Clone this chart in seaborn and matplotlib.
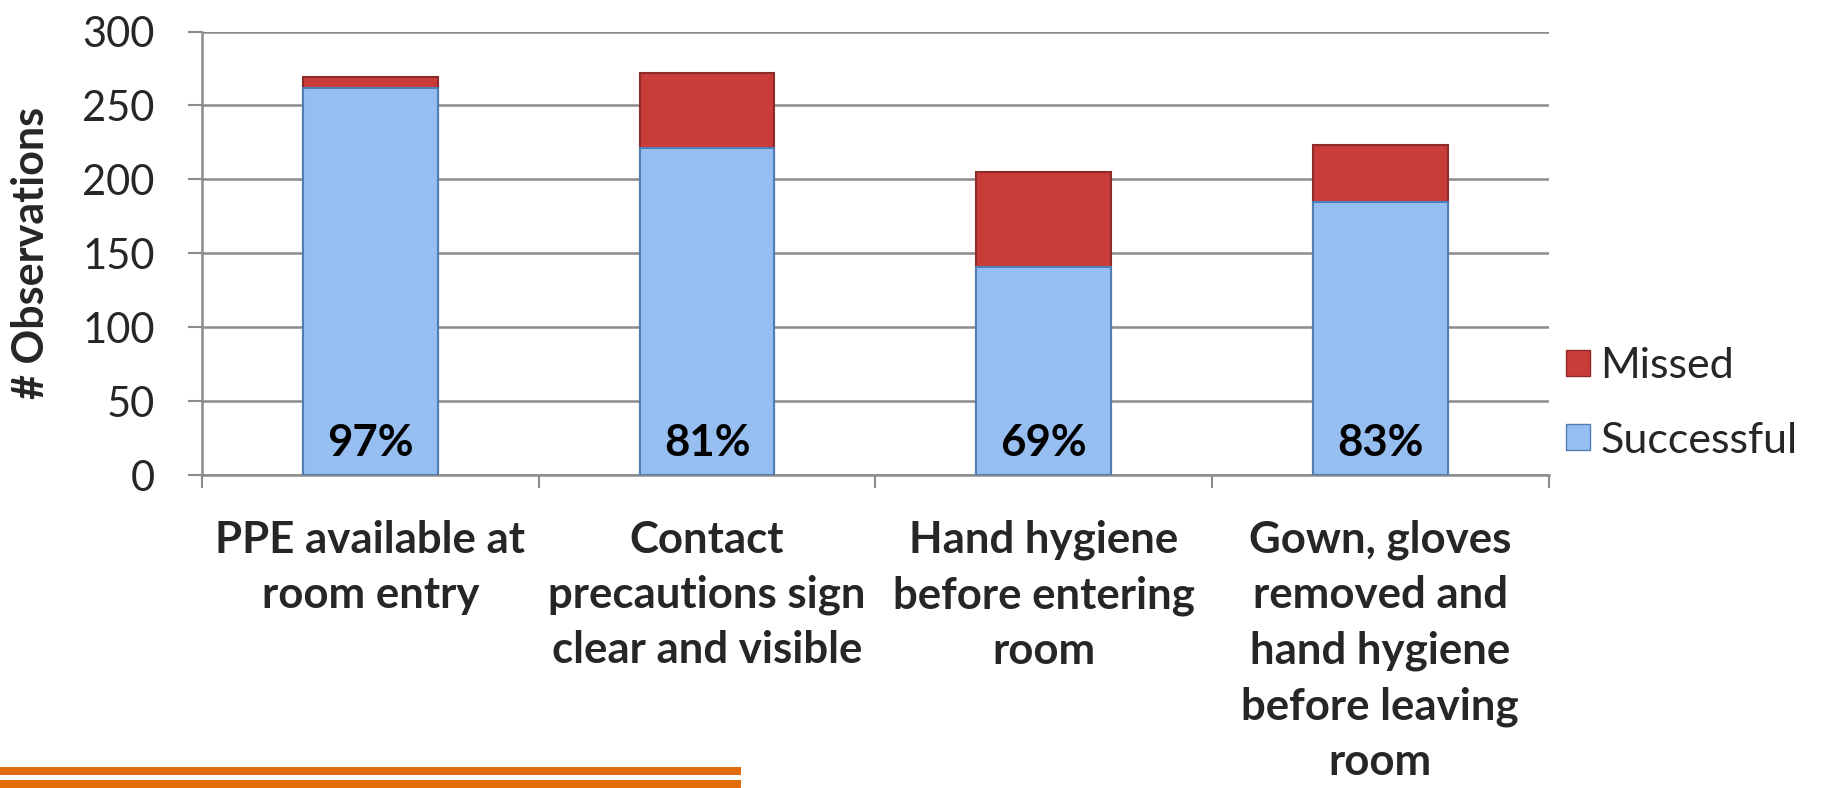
import matplotlib
matplotlib.use("Agg")
import matplotlib.pyplot as plt
import seaborn as sns
import pandas as pd
import numpy as np
from matplotlib.patches import Patch, Rectangle

categories = [
    "PPE available at\nroom entry",
    "Contact\nprecautions sign\nclear and visible",
    "Hand hygiene\nbefore entering\nroom",
    "Gown, gloves\nremoved and\nhand hygiene\nbefore leaving\nroom",
]
successful = [262, 221, 141, 185]
missed = [7, 51, 64, 38]
pct_labels = ["97%", "81%", "69%", "83%"]
yticks = [0, 50, 100, 150, 200, 250, 300]

sns.set_theme(style="white")
plt.rcParams["font.family"] = ["Lato", "DejaVu Sans"]

df = pd.DataFrame({
    "cat": categories,
    "Successful": successful,
    "Missed": missed,
})
df["Total"] = df["Successful"] + df["Missed"]

blue = "#97BEF0"
blue_edge = "#4F7DB5"
red = "#C93C3A"
red_edge = "#8E2A28"
grid_c = "#8C8C8C"

fig = plt.figure(figsize=(18.37, 7.88), dpi=100)
ax = fig.add_axes([0.110, 0.397, 0.733, 0.563])

sns.barplot(data=df, x="cat", y="Total", color=red, width=0.4,
            edgecolor=red_edge, linewidth=1.5, saturation=1, ax=ax, zorder=3)
sns.barplot(data=df, x="cat", y="Successful", color=blue, width=0.4,
            edgecolor=blue_edge, linewidth=1.5, saturation=1, ax=ax, zorder=4)

for i, lab in enumerate(pct_labels):
    ax.text(i, 22, lab, ha="center", va="center", fontsize=31.5,
            fontweight="bold", color="black", zorder=5)

ax.set_ylim(0, 300)
ax.set_xlim(-0.5, 3.5)
ax.set_yticks(yticks)
ax.set_yticklabels([str(v) for v in yticks])
ax.yaxis.grid(True, color=grid_c, linewidth=1.8, zorder=0)
ax.set_axisbelow(True)

for s in ["top", "right"]:
    ax.spines[s].set_visible(False)
for s in ["left", "bottom"]:
    ax.spines[s].set_color(grid_c)
    ax.spines[s].set_linewidth(1.8)

ax.tick_params(axis="y", direction="out", length=10, width=1.5, color=grid_c,
               labelsize=30, pad=24, left=True)
ax.set_xticks(range(4))
ax.set_xticklabels(categories, fontsize=31.5, fontweight="bold",
                   linespacing=1.46, va="top")
ax.tick_params(axis="x", length=0, pad=32)
ax.set_xticks([-0.5, 0.5, 1.5, 2.5, 3.5], minor=True)
ax.tick_params(axis="x", which="minor", direction="out", length=9,
               width=1.5, color=grid_c, bottom=True)

ax.set_xlabel("")
ax.set_ylabel("# Observations", fontsize=31, fontweight="bold")
ax.yaxis.set_label_coords(-0.112, 0.5)

handles = [Patch(facecolor=red, edgecolor=red_edge, label="Missed"),
           Patch(facecolor=blue, edgecolor=blue_edge, label="Successful")]
leg = ax.legend(handles=handles, loc="center left",
                bbox_to_anchor=(1.013, 0.162), frameon=False, fontsize=31,
                handlelength=0.55, handleheight=0.55, handletextpad=0.25,
                labelspacing=0.85, borderaxespad=0, borderpad=0)

orange = "#E36C0A"
fig.add_artist(Rectangle((0, 1 - 775 / 788), 741 / 1837, 8 / 788,
                         transform=fig.transFigure, color=orange, lw=0))
fig.add_artist(Rectangle((0, 0), 741 / 1837, 8 / 788,
                         transform=fig.transFigure, color=orange, lw=0))

fig.savefig("out.png", dpi=100)
